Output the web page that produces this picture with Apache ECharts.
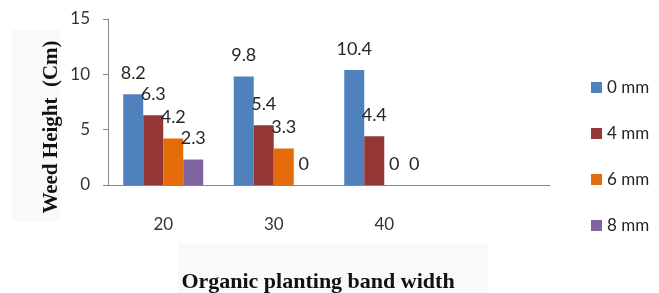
<!DOCTYPE html>
<html>
<head>
<meta charset="utf-8">
<script src="https://cdn.jsdelivr.net/npm/echarts@6/dist/echarts.min.js"></script>
<style>
  html, body { margin: 0; padding: 0; background: #fff; }
  #chart { width: 659px; height: 293px; }
</style>
</head>
<body>
<div id="chart"></div>
<script>
// band widths (last slot is empty in the original chart)
var categories = ['20', '30', '40', ''];
var seriesNames = ['0 mm', '4 mm', '6 mm', '8 mm'];
var mm0 = [8.2, 9.8, 10.4, '-'];
var mm4 = [6.3, 5.4, 4.4, '-'];
var mm6 = [4.2, 3.3, 0, '-'];
var mm8 = [2.3, 0, 0, '-'];
var colors = ['#4F81BD', '#953735', '#E46C0A', '#8064A2'];

var labelFont = 'Lato, "Open Sans", sans-serif';

function bar (name, data, color) {
  return {
    name: name,
    type: 'bar',
    data: data,
    barWidth: 20,
    barGap: 0,
    itemStyle: { color: color },
    label: {
      show: true,
      position: 'top',
      distance: 12,
      color: '#262626',
      fontSize: 18,
      fontFamily: labelFont
    }
  }
}

var dom = echarts.init(document.getElementById('chart'))
dom.setOption({
  animation: false,
  grid: { left: 108, right: 109, top: 19, bottom: 108 },
  legend: {
    orient: 'vertical',
    left: 586,
    top: 74,
    itemWidth: 11,
    itemHeight: 11,
    itemGap: 29,
    icon: 'rect',
    textStyle: { fontSize: 17, color: '#262626', fontFamily: labelFont },
    data: seriesNames
  },
  xAxis: {
    type: 'category',
    data: categories,
    axisLine: { lineStyle: { color: '#868686' } },
    axisTick: { length: 5, lineStyle: { color: '#868686' } },
    axisLabel: { margin: 31, fontSize: 17, color: '#333', fontFamily: labelFont }
  },
  yAxis: {
    type: 'value',
    min: 0,
    max: 15,
    interval: 5,
    splitLine: { show: false },
    axisLine: { show: true, lineStyle: { color: '#868686' } },
    axisTick: { show: true, length: 5, lineStyle: { color: '#868686' } },
    axisLabel: { margin: 18, fontSize: 17, color: '#333', fontFamily: labelFont }
  },
  graphic: [
    { type: 'rect', left: 12, top: 30, shape: { width: 48, height: 192 }, style: { fill: '#f8f9fb' }, silent: true },
    { type: 'rect', left: 178, top: 243, shape: { width: 310, height: 50 }, style: { fill: '#f8f9fb' }, silent: true },
    {
      type: 'text',
      x: 52, y: 127,
      rotation: Math.PI / 2,
      style: {
        text: 'Weed Height  (Cm)',
        font: 'bold 21px "Liberation Serif", serif',
        fill: '#111',
        align: 'center',
        verticalAlign: 'middle'
      }
    },
    {
      type: 'text',
      x: 318, y: 282,
      style: {
        text: 'Organic planting band width',
        font: 'bold 22px "Liberation Serif", serif',
        fill: '#111',
        align: 'center',
        verticalAlign: 'middle'
      }
    }
  ],
  series: [
    bar(seriesNames[0], mm0, colors[0]),
    bar(seriesNames[1], mm4, colors[1]),
    bar(seriesNames[2], mm6, colors[2]),
    bar(seriesNames[3], mm8, colors[3])
  ]
})
</script>
</body>
</html>
